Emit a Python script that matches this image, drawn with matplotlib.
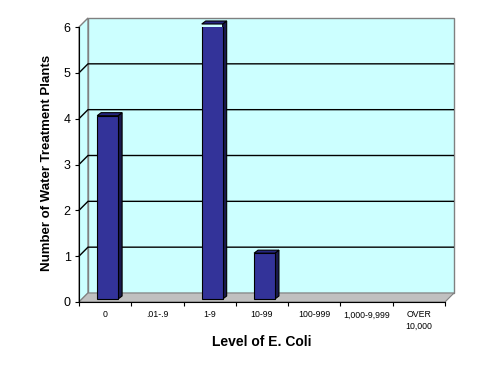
import matplotlib
matplotlib.use("Agg")
import matplotlib.pyplot as plt
from matplotlib.patches import Polygon, Rectangle
import numpy as np

categories = ["0", ".01-.9", "1-9", "10-99", "100-999", "1,000-9,999", "OVER\n10,000"]
values = [4, 0, 6, 1, 0, 0, 0]
y_ticks = [0, 1, 2, 3, 4, 5, 6]
x_title = "Level of E. Coli"
y_title = "Number of Water Treatment Plants"

plt.rcParams['font.family'] = ['Liberation Sans', 'DejaVu Sans']

W, H = 491, 374
fig = plt.figure(figsize=(W / 100, H / 100), dpi=100)
fig.patch.set_facecolor("white")
# front plane of the axes in pixels
L, R, B, T = 79, 445, 302, 27
ax = fig.add_axes([L / W, (H - B) / H, (R - L) / W, (B - T) / H])
n = len(categories)
xmin, xmax = -0.5, n - 0.5
ymin, ymax = 0, 6
ax.set_xlim(xmin, xmax)
ax.set_ylim(ymin, ymax)
ax.patch.set_visible(False)

px_x = (xmax - xmin) / (R - L)
px_y = (ymax - ymin) / (B - T)
DX, DY = 9 * px_x, 9 * px_y          # wall depth
bdx0, bdy0 = 2.5 * px_x, 3 * px_y    # bar front offset
bdx, bdy = 4 * px_x, 3 * px_y        # bar depth

cyan = "#CCFFFF"
wall_edge = "#808080"

# back wall
ax.add_patch(Rectangle((xmin + DX, ymin + DY), xmax - xmin, ymax - ymin,
                       facecolor=cyan, edgecolor=wall_edge, lw=1.0, zorder=0.5, clip_on=False))
# side wall
ax.add_patch(Polygon([(xmin, ymin), (xmin + DX, ymin + DY), (xmin + DX, ymax + DY), (xmin, ymax)],
                     closed=True, facecolor=cyan, edgecolor=wall_edge, lw=1.0, zorder=0.6, clip_on=False))
# gridlines
for yv in y_ticks[1:-1]:
    ax.plot([xmin, xmin + DX, xmax + DX], [yv, yv + DY, yv + DY], color="black", lw=1.0,
            zorder=0.8, clip_on=False, solid_capstyle="butt")
# floor
ax.add_patch(Polygon([(xmin, ymin), (xmax, ymin), (xmax + DX, ymin + DY), (xmin + DX, ymin + DY)],
                     closed=True, facecolor="#C0C0C0", edgecolor=wall_edge, lw=0.8, zorder=0.9, clip_on=False))

# bars
xs = np.arange(n)
bw = 0.4
idx = [i for i, v in enumerate(values) if v > 0]
bx = xs[idx] + bdx0
bv = np.array(values)[idx]
ax.bar(bx, bv, width=bw, bottom=bdy0, color="#333399", edgecolor="black", lw=0.8, zorder=3)
for x0, v in zip(bx, bv):
    xl, xr = x0 - bw / 2, x0 + bw / 2
    yb, yt = bdy0, bdy0 + v
    ax.add_patch(Polygon([(xr, yb), (xr + bdx, yb + bdy), (xr + bdx, yt + bdy), (xr, yt)],
                         closed=True, facecolor="#1A1A4D", edgecolor="black", lw=0.8, zorder=2.9,
                         clip_on=False))
    ax.add_patch(Polygon([(xl, yt), (xr, yt), (xr + bdx, yt + bdy), (xl + bdx, yt + bdy)],
                         closed=True, facecolor="#262680", edgecolor="black", lw=0.8, zorder=2.9,
                         clip_on=False))

# spines
for s in ["top", "right"]:
    ax.spines[s].set_visible(False)
ax.spines["left"].set_color("black")
ax.spines["bottom"].set_color("black")
ax.spines["left"].set_zorder(4)
ax.spines["bottom"].set_zorder(4)

ax.set_yticks(y_ticks)
ax.set_yticklabels([str(v) for v in y_ticks], fontsize=9)
ax.tick_params(axis="y", direction="out", length=3, width=0.8, pad=3)
ax.set_xticks(xs)
ax.set_xticklabels(categories, fontsize=6.3, linespacing=1.3)
ax.set_xticks(np.arange(n + 1) - 0.5, minor=True)
ax.tick_params(axis="x", which="major", length=0, pad=6)
ax.tick_params(axis="x", which="minor", direction="out", length=3, width=0.8)

ax.set_xlabel(x_title, fontsize=10, fontweight="bold", va="center")
ax.xaxis.set_label_coords(0.5, (B - 342) / (B - T))
ax.set_ylabel(y_title, fontsize=9.5, fontweight="bold", va="center", ha="center")
ax.yaxis.set_label_coords((47 - L) / (R - L), (B - 163) / (B - T))

fig.savefig("out.png", dpi=100)
